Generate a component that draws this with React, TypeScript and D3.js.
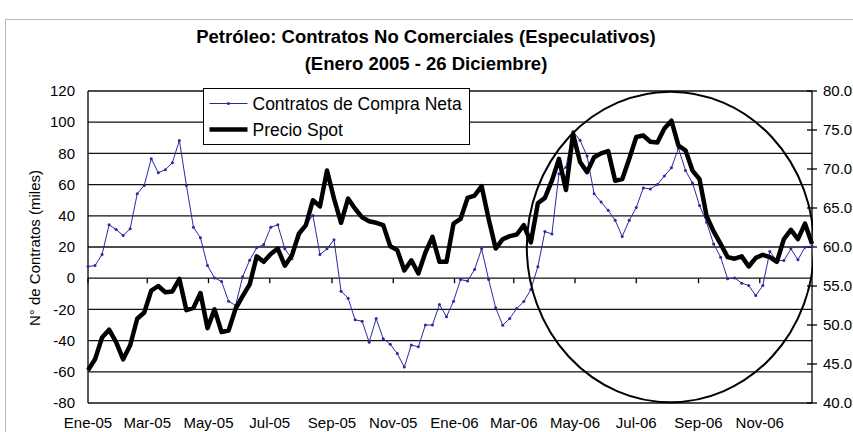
import React, { useEffect, useRef } from "react";
import * as d3 from "d3";

const width = 853;
const height = 432;

// weekly observations, Jan 2005 to late Dec 2006
const firstWeek = new Date(2005, 0, 1);
const weekCount = 104;

// Contratos de Compra Neta (miles), left axis
const netContracts = [
  7.5, 8.1, 15.2, 34.2, 31.2, 27.4, 31.7, 54.1, 59.5, 76.6,
  67.6, 69.5, 74.0, 88.3, 59.5, 32.7, 25.9, 8.1, 0.2, -2.1,
  -14.8, -17.5, 1.0, 11.5, 19.5, 21.6, 32.7, 34.2, 18.8, 12.4,
  25.9, 34.4, 40.2, 15.2, 18.8, 24.6, -8.3, -12.8, -26.7, -27.6,
  -41.0, -25.9, -38.8, -42.3, -48.3, -57.0, -42.8, -44.0, -30.0, -30.0,
  -16.9, -24.7, -14.8, -0.9, -1.8, 5.6, 18.8, -0.9, -19.0, -30.2,
  -25.8, -19.4, -15.0, -7.2, 7.4, 29.9, 28.4, 67.0, 71.2, 94.0,
  88.4, 78.3, 54.2, 48.8, 43.5, 37.1, 26.8, 37.1, 45.3, 57.9,
  57.2, 60.0, 65.5, 70.8, 83.3, 69.1, 61.0, 46.6, 35.9, 22.0,
  13.5, -0.4, 0.2, -3.2, -4.7, -11.1, -4.7, 17.1, 11.3, 11.3,
  18.8, 11.8, 19.9, 20.5,
];

// Precio Spot (US$/barril), right axis
const spotPrice = [
  44.2, 45.6, 48.4, 49.4, 47.8, 45.6, 47.4, 50.8, 51.6, 54.4,
  55.0, 54.2, 54.3, 55.9, 51.9, 52.2, 54.1, 49.6, 52.0, 49.1,
  49.3, 52.1, 53.7, 55.2, 58.8, 58.1, 59.1, 59.8, 57.6, 58.9,
  61.7, 62.8, 66.0, 65.2, 69.8, 66.2, 63.1, 66.2, 64.9, 63.8,
  63.3, 63.1, 62.8, 60.1, 59.6, 57.0, 58.3, 56.6, 59.3, 61.3,
  58.1, 58.1, 63.0, 63.6, 66.3, 66.6, 67.8, 63.6, 59.8, 61.0,
  61.4, 61.6, 62.8, 60.6, 65.6, 66.3, 68.5, 71.3, 67.3, 74.5,
  70.9, 69.6, 71.5, 72.0, 72.3, 68.5, 68.7, 71.3, 74.1, 74.3,
  73.5, 73.4, 75.2, 76.2, 73.0, 72.4, 69.8, 68.7, 64.0, 62.0,
  60.4, 58.7, 58.5, 58.8, 57.5, 58.6, 59.0, 58.7, 58.1, 61.0,
  62.2, 61.0, 63.0, 60.4,
];

const leftTicks = [-80, -60, -40, -20, 0, 20, 40, 60, 80, 100, 120];
const rightTicks = [40, 45, 50, 55, 60, 65, 70, 75, 80];
const monthNames = ["Ene", "Feb", "Mar", "Abr", "May", "Jun", "Jul", "Ago", "Sep", "Oct", "Nov", "Dic"];

const titleLines = ["Petróleo: Contratos No Comerciales (Especulativos)", "(Enero 2005 - 26 Diciembre)"];
const yAxisTitle = "N° de Contratos (miles)";
const seriesNames = ["Contratos de Compra Neta", "Precio Spot"];

// the hand-drawn circle around 2006, in data units
const circleCenter = { date: new Date(2006, 7, 4), value: 20 };
const circleHalfDays = 143;
const circleHalfValue = 99.5;

const font = "'Liberation Sans', Arial, sans-serif";
const blue = "#2a2aa0";

const App = () => {
  const svgRef = useRef(null);

  useEffect(() => {
    const svg = d3.select(svgRef.current);
    svg.selectAll("*").remove();

    const plot = { left: 88, right: 812, top: 91, bottom: 403 };
    const dates = d3.range(weekCount).map((i) => d3.timeDay.offset(firstWeek, 7 * i));

    const x = d3.scaleTime().domain([dates[0], dates[dates.length - 1]]).range([plot.left, plot.right]);
    const yL = d3.scaleLinear().domain([-80, 120]).range([plot.bottom, plot.top]);
    const yR = d3.scaleLinear().domain([40, 80]).range([plot.bottom, plot.top]);

    // chart frame
    svg.append("rect")
      .attr("x", 5.5).attr("y", 19.5)
      .attr("width", 900).attr("height", 500)
      .attr("fill", "#fff").attr("stroke", "#b8b8b8");

    // title
    svg.append("g")
      .selectAll("text")
      .data(titleLines)
      .enter()
      .append("text")
      .attr("x", 426)
      .attr("y", (d, i) => 43 + i * 27)
      .attr("text-anchor", "middle")
      .attr("font-family", font)
      .attr("font-weight", "bold")
      .attr("font-size", 18.5)
      .text((d) => d);

    // horizontal grid lines
    svg.append("g")
      .selectAll("line")
      .data(leftTicks)
      .enter()
      .append("line")
      .attr("x1", plot.left).attr("x2", plot.right)
      .attr("y1", (d) => yL(d)).attr("y2", (d) => yL(d))
      .attr("stroke", "#111").attr("stroke-width", 1.3);

    // axis lines
    [plot.left, plot.right].forEach((px) => {
      svg.append("line")
        .attr("x1", px).attr("x2", px)
        .attr("y1", plot.top).attr("y2", plot.bottom)
        .attr("stroke", "#000").attr("stroke-width", 1.3);
    });

    // left axis labels
    svg.append("g")
      .selectAll("text")
      .data(leftTicks)
      .enter()
      .append("text")
      .attr("x", 75)
      .attr("y", (d) => yL(d))
      .attr("dy", "0.35em")
      .attr("text-anchor", "end")
      .attr("font-family", font).attr("font-size", 15)
      .text((d) => d);

    // right axis ticks + labels
    const right = svg.append("g");
    right.selectAll("line")
      .data(rightTicks)
      .enter()
      .append("line")
      .attr("x1", plot.right - 5).attr("x2", plot.right + 5)
      .attr("y1", (d) => yR(d)).attr("y2", (d) => yR(d))
      .attr("stroke", "#000").attr("stroke-width", 1.3);
    right.selectAll("text")
      .data(rightTicks)
      .enter()
      .append("text")
      .attr("x", plot.right + 11)
      .attr("y", (d) => yR(d))
      .attr("dy", "0.35em")
      .attr("font-family", font).attr("font-size", 15)
      .text((d) => d3.format(".1f")(d));

    // category axis crosses at 0, labels stay at the bottom
    const months = x.ticks(d3.timeMonth.every(2));
    svg.append("g")
      .selectAll("line")
      .data(months)
      .enter()
      .append("line")
      .attr("x1", (d) => x(d)).attr("x2", (d) => x(d))
      .attr("y1", yL(0)).attr("y2", yL(0) + 5)
      .attr("stroke", "#000").attr("stroke-width", 1.3);
    svg.append("g")
      .selectAll("text")
      .data(months)
      .enter()
      .append("text")
      .attr("x", (d) => x(d))
      .attr("y", 428)
      .attr("text-anchor", "middle")
      .attr("font-family", font).attr("font-size", 15)
      .text((d) => `${monthNames[d.getMonth()]}-${d3.timeFormat("%y")(d)}`);

    // y axis title
    svg.append("text")
      .attr("transform", "translate(40,248) rotate(-90)")
      .attr("text-anchor", "middle")
      .attr("font-family", font).attr("font-size", 15)
      .text(yAxisTitle);

    // contracts line with small markers
    const contractLine = d3.line()
      .x((d, i) => x(dates[i]))
      .y((d) => yL(d));
    svg.append("path")
      .datum(netContracts)
      .attr("fill", "none")
      .attr("stroke", blue)
      .attr("stroke-width", 1)
      .attr("d", contractLine);
    svg.append("g")
      .selectAll("circle")
      .data(netContracts)
      .enter()
      .append("circle")
      .attr("cx", (d, i) => x(dates[i]))
      .attr("cy", (d) => yL(d))
      .attr("r", 1.5)
      .attr("fill", blue);

    // spot price, secondary axis
    const priceLine = d3.line()
      .x((d, i) => x(dates[i]))
      .y((d) => yR(d));
    svg.append("path")
      .datum(spotPrice)
      .attr("fill", "none")
      .attr("stroke", "#000")
      .attr("stroke-width", 4.5)
      .attr("stroke-linejoin", "round")
      .attr("d", priceLine);

    // circle annotation, clipped at the right axis
    svg.append("clipPath")
      .attr("id", "plotClip")
      .append("rect")
      .attr("x", 0).attr("y", 0)
      .attr("width", plot.right + 1).attr("height", height);
    const cx = x(circleCenter.date);
    svg.append("ellipse")
      .attr("clip-path", "url(#plotClip)")
      .attr("cx", cx)
      .attr("cy", yL(circleCenter.value))
      .attr("rx", x(d3.timeDay.offset(circleCenter.date, circleHalfDays)) - cx)
      .attr("ry", yL(circleCenter.value - circleHalfValue) - yL(circleCenter.value))
      .attr("fill", "none")
      .attr("stroke", "#000")
      .attr("stroke-width", 2);

    // legend
    const legend = svg.append("g").attr("transform", "translate(203.5,88.5)");
    legend.append("rect")
      .attr("width", 266).attr("height", 56)
      .attr("fill", "#fff").attr("stroke", "#000");
    legend.append("line")
      .attr("x1", 6).attr("x2", 44).attr("y1", 15).attr("y2", 15)
      .attr("stroke", blue).attr("stroke-width", 1);
    legend.append("circle")
      .attr("cx", 25).attr("cy", 15).attr("r", 1.5).attr("fill", blue);
    legend.append("line")
      .attr("x1", 6).attr("x2", 44).attr("y1", 41).attr("y2", 41)
      .attr("stroke", "#000").attr("stroke-width", 4.5);
    legend.selectAll("text")
      .data(seriesNames)
      .enter()
      .append("text")
      .attr("x", 49)
      .attr("y", (d, i) => 15 + i * 26)
      .attr("dy", "0.35em")
      .attr("font-family", font).attr("font-size", 17.5)
      .text((d) => d);
  }, []);

  return (
    <svg
      ref={svgRef}
      width={width}
      height={height}
      style={{ position: "absolute", left: 0, top: 0, background: "#fff" }}
    />
  );
};

export default App;
